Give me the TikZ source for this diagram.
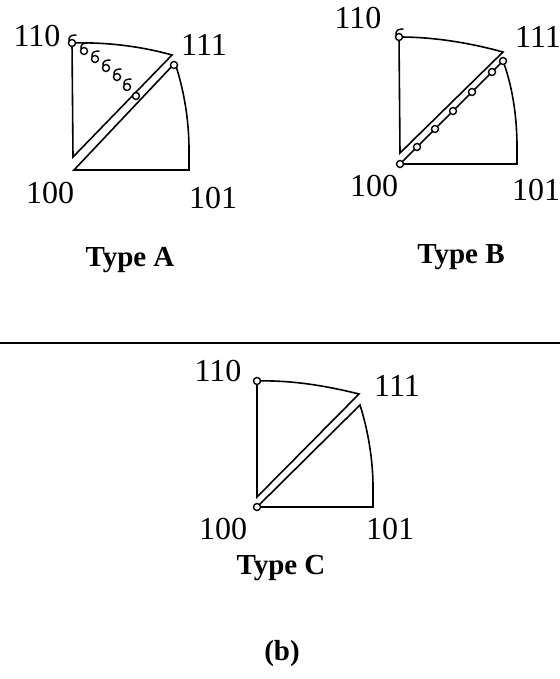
\documentclass[tikz,border=0pt]{standalone}
\usepackage{fontspec}
\setmainfont{Liberation Serif}
\newcommand{\tailcirc}[1]{\begin{scope}[shift={#1}]
\draw[dot] (0, 0) circle (3.5);
\draw[line width = 0.7pt] (-3, -1.5) .. controls (-3.5, -7) and (-1, -8) .. (4.5, -8);
\end{scope}}
\begin{document}
\begin{tikzpicture}[x = 0.5pt, y = -0.5pt, line width = 0.8pt,
  pole/.style = {font = \fontsize{16}{19}\selectfont, inner sep = 0pt},
  typename/.style = {font = \fontsize{14.5}{17}\selectfont\bfseries, inner sep = 0pt},
  dot/.style = {line width = 0.7pt, fill = white}]
\useasboundingbox (0, 0) rectangle (560, 679);
% Type A
\coordinate (a110) at (72, 43);
\coordinate (a111) at (172, 55);
\coordinate (aup) at (73, 157);
\coordinate (a100) at (74, 170);
\coordinate (a101) at (189, 170);
\coordinate (aarc) at (175, 63);
\coordinate (aend) at (189, 150);
\draw (aup)--(a110) .. controls (105, 42) and (140, 46) .. (a111)--cycle;
\draw (a100)--(a101)--(aend) .. controls (189, 120) and (184, 90) .. (aarc)--cycle;
\tailcirc{(a110)}
\tailcirc{(84, 51)}
\tailcirc{(95, 59)}
\tailcirc{(106, 68)}
\tailcirc{(117, 77)}
\tailcirc{(127, 87)}
\draw[dot] (136, 96) circle (3.5);
\draw[dot] (174, 65) circle (3.5);
\node[pole] (la110) at (37, 36) {110};
\node[pole] (la111) at (204, 45) {111};
\node[pole] (la100) at (50, 193) {100};
\node[pole] (la101) at (213, 198) {101};
\node[typename] (ta) at (130, 260) {Type A};
% Type B
\coordinate (b110) at (399, 37);
\coordinate (b111) at (503, 52);
\coordinate (bup) at (400, 153);
\coordinate (b100) at (400, 164);
\coordinate (b101) at (517, 164);
\coordinate (barc) at (503, 61);
\coordinate (bend) at (517, 147);
\draw (bup)--(b110) .. controls (435, 37) and (470, 43) .. (b111)--cycle;
\draw (b100)--(b101)--(bend) .. controls (517, 115) and (512, 85) .. (barc)--cycle;
\tailcirc{(b110)}
\foreach \x in {400, 417, 435, 453, 472, 492, 503}
  \draw[dot] (\x, 564 - \x) circle (3.5);
\node[pole] (lb110) at (358, 18) {110};
\node[pole] (lb111) at (538, 37) {111};
\node[pole] (lb100) at (374, 186) {100};
\node[pole] (lb101) at (536, 190) {101};
\node[typename] (tb) at (461, 257) {Type B};
% separator
\draw[line width = 1.2pt] (0, 343)--(560, 343);
% Type C
\coordinate (c110) at (257, 381);
\coordinate (c111) at (359, 394);
\coordinate (cup) at (257, 497);
\coordinate (c100) at (257, 507);
\coordinate (c101) at (373, 507);
\coordinate (carc) at (360, 405);
\coordinate (cend) at (373, 487);
\draw (cup)--(c110) .. controls (292, 380) and (327, 386) .. (c111)--cycle;
\draw (c100)--(c101)--(cend) .. controls (373, 460) and (368, 430) .. (carc)--cycle;
\draw[dot] (c110) circle (3.5);
\draw[dot] (c100) circle (3.5);
\node[pole] (lc110) at (218, 371) {110};
\node[pole] (lc111) at (397, 386) {111};
\node[pole] (lc100) at (223, 529) {100};
\node[pole] (lc101) at (390, 529) {101};
\node[typename] (tc) at (281, 568) {Type C};
\node[typename] (tag) at (282, 654) {(b)};
\end{tikzpicture}
\end{document}
